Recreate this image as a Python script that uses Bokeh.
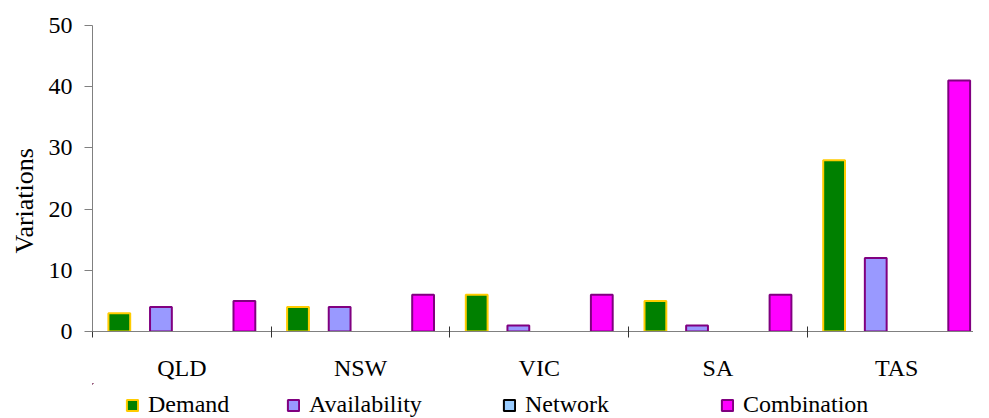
import numpy as np
from bokeh.plotting import figure
from bokeh.layouts import column
from bokeh.models import (FixedTicker, Legend, LegendItem, ColumnDataSource, CDSView,
                          BooleanFilter, Title)
from bokeh.embed import file_html
from bokeh.resources import INLINE

regions = ["QLD", "NSW", "VIC", "SA", "TAS"]
demand = [3, 4, 6, 5, 28]
availability = [4, 4, 1, 1, 12]
network = [0, 0, 0, 0, 0]
combination = [5, 6, 6, 6, 41]
series_names = ["Demand", "Availability", "Network", "Combination"]
y_ticks = [0, 10, 20, 30, 40, 50]
y_title = "Variations"

fills = ["#008000", "#9999FF", "#99CCFF", "#FF00FF"]
outlines = ["#FFCC00", "#800080", "#000000", "#800080"]
offsets = [-0.35, -0.117, 0.117, 0.35]
legend_x = [33, 194, 410, 628]
FONT = "Liberation Serif"

p = figure(width=973, height=383, x_range=(0, 4.93), y_range=(0, 50),
           output_backend="svg", toolbar_location=None,
           min_border_left=82, min_border_right=0, min_border_top=25, min_border_bottom=52)
p.xgrid.visible = False
p.ygrid.visible = False
p.outline_line_color = None
p.background_fill_color = "white"

centers = np.arange(len(regions)) + 0.5
p.xaxis.ticker = FixedTicker(ticks=list(centers), minor_ticks=list(np.arange(len(regions) + 1)))
p.xaxis.major_label_overrides = {float(c): r for c, r in zip(centers, regions)}
p.xaxis.major_tick_in = 0
p.xaxis.major_tick_out = 0
p.xaxis.minor_tick_in = 5
p.xaxis.minor_tick_out = 6
p.xaxis.minor_tick_line_color = "#333333"
p.xaxis.axis_line_color = "#808080"
p.xaxis.major_label_standoff = 17
p.xaxis.major_label_text_font = FONT
p.xaxis.major_label_text_font_size = "24px"
p.xaxis.major_label_text_color = "black"

p.yaxis.ticker = FixedTicker(ticks=y_ticks)
p.yaxis.major_tick_in = 0
p.yaxis.major_tick_out = 8
p.yaxis.minor_tick_line_color = None
p.yaxis.axis_line_color = "#808080"
p.yaxis.major_tick_line_color = "#808080"
p.yaxis.major_label_standoff = 12
p.yaxis.major_label_text_font = FONT
p.yaxis.major_label_text_font_size = "24px"
p.yaxis.major_label_text_color = "black"

# y-axis title as a side title so that it can sit slightly below the frame centre
p.add_layout(Title(text=y_title, align="left", offset=78, standoff=14,
                   text_font=FONT, text_font_size="26px", text_font_style="normal",
                   text_color="black"), "left")

for vals, fc, lc, off in zip([demand, availability, network, combination], fills, outlines, offsets):
    src = ColumnDataSource(dict(x=centers + off, top=vals))
    view = CDSView(filter=BooleanFilter([v > 0 for v in vals]))
    p.vbar(x="x", top="top", bottom=0, width=0.122, source=src, view=view,
           fill_color=fc, line_color=lc, line_width=2)

# legend strip (its own small figure, legend only)
lg = figure(width=973, height=35, x_range=(0, 1), y_range=(0, 1),
            x_axis_location=None, y_axis_location=None,
            output_backend="svg", toolbar_location=None,
            min_border_left=0, min_border_right=0, min_border_top=0, min_border_bottom=0)
lg.xgrid.visible = False
lg.ygrid.visible = False
lg.outline_line_color = None
for name, fc, lc, lx in zip(series_names, fills, outlines, legend_x):
    # proxy renderer placed far outside the visible range; only its legend swatch shows
    r = lg.vbar(x=[-50], bottom=[10], top=[11], width=0.1, fill_color=fc, line_color=lc, line_width=2)
    leg = Legend(items=[LegendItem(label=name, renderers=[r])], location=(lx, 0),
                 glyph_width=14, glyph_height=14, label_standoff=9,
                 label_text_font=FONT, label_text_font_size="24px", label_text_color="black",
                 border_line_color=None, background_fill_alpha=0, padding=0, margin=0)
    lg.add_layout(leg, "center")

layout = column(p, lg, spacing=0)
open("out.html", "w").write(file_html(layout, INLINE))
